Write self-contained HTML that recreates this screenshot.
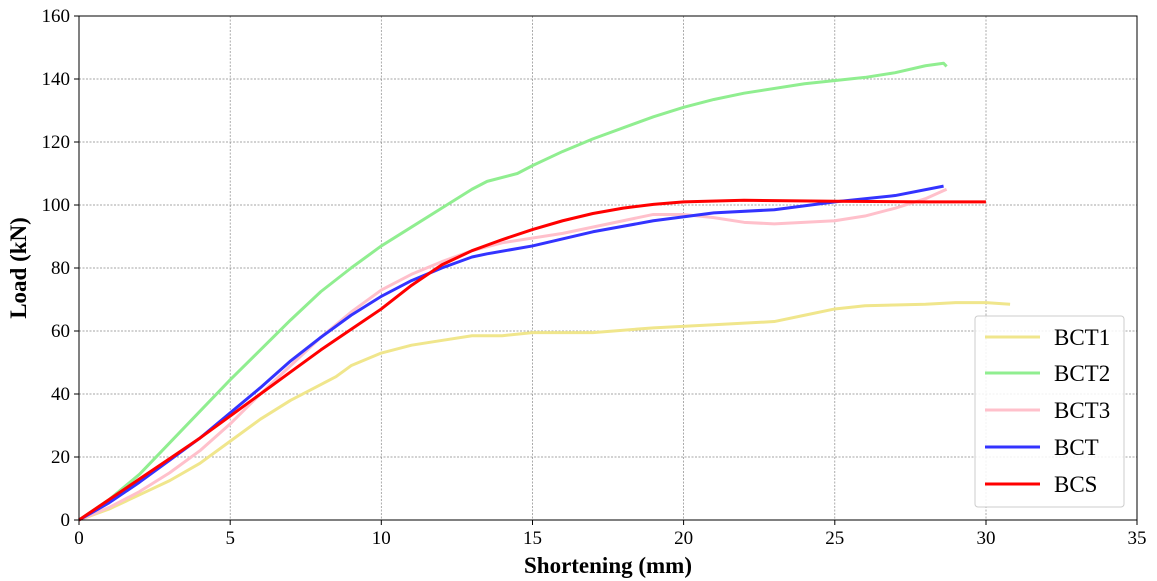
<!DOCTYPE html>
<html><head><style>body{margin:0;background:#fff}svg{display:block}text{font-family:"Liberation Serif",serif}</style></head>
<body>
<svg width="1157" height="581" xmlns="http://www.w3.org/2000/svg">
<rect width="1157" height="581" fill="#fff"/>
<g stroke="#888" stroke-width="0.7" stroke-dasharray="2,1.5">
<line x1="230.2" y1="16" x2="230.2" y2="520"/><line x1="381.3" y1="16" x2="381.3" y2="520"/><line x1="532.5" y1="16" x2="532.5" y2="520"/><line x1="683.6" y1="16" x2="683.6" y2="520"/><line x1="834.8" y1="16" x2="834.8" y2="520"/><line x1="986" y1="16" x2="986" y2="520"/>
<line x1="79" y1="457" x2="1137" y2="457"/><line x1="79" y1="394" x2="1137" y2="394"/><line x1="79" y1="331" x2="1137" y2="331"/><line x1="79" y1="268" x2="1137" y2="268"/><line x1="79" y1="205" x2="1137" y2="205"/><line x1="79" y1="142" x2="1137" y2="142"/><line x1="79" y1="79" x2="1137" y2="79"/>
</g>
<g transform="translate(79,520) scale(30.23,-3.15)" fill="none" stroke-width="3" stroke-linejoin="round">
<polyline vector-effect="non-scaling-stroke" stroke="#f0e68c" points="0,0 1,3.5 2,8 3,12.5 4,18 5,25 6,32 7,38 8,43 8.5,45.5 9,49 10,53 11,55.5 12,57 13,58.5 14,58.5 15,59.5 17,59.5 19,61 21,62 23,63 24,65 25,67 26,68 28,68.5 29,69 30,69 30.8,68.5"/>
<polyline vector-effect="non-scaling-stroke" stroke="#90ee90" points="0,0 1,6.5 2,14.5 3,24.5 4,34.5 5,44.5 6,54 7,63.5 8,72.5 9,80 10,87 11,93 12,99 13,105 13.5,107.5 14.5,110 15,112.5 16,117 17,121 18,124.5 19,128 20,131 21,133.5 22,135.5 24,138.5 26,140.5 27,142 28,144.2 28.6,145 28.7,144"/>
<polyline vector-effect="non-scaling-stroke" stroke="#ffc0cb" points="0,0 1,4 2,9 3,15 4,22 5,30.5 6,40 7,49 8,58 9,66 10,73 11,78 12,82 13,85.5 14,88 16,91 18,95 19,97 20,97 21,96 22,94.5 23,94 25,95 26,96.5 27,99 28,102 28.7,105"/>
<polyline vector-effect="non-scaling-stroke" stroke="#3333ff" points="0,0 1,5.5 2,12 3,19 4,26 5,34 6,42 7,50.5 8,58 9,65 10,71 11,76 12,80 13,83.5 13.5,84.5 15,87 17,91.5 19,95 21,97.5 23,98.5 25,101 27,103 28.6,106"/>
<polyline vector-effect="non-scaling-stroke" stroke="#ff0000" points="0,0 1,6.5 2,13 3,19.5 4,26 5,33 6,40 7,47 8,54 9,60.5 10,67 11,74.5 12,81 13,85.5 14,89 15,92.2 16,95 17,97.3 18,99 19,100.2 20,101 22,101.5 25,101.2 28,101 30,101"/>
</g>
<rect x="79" y="16" width="1058" height="504" fill="none" stroke="#000" stroke-width="1"/>
<g stroke="#000" stroke-width="1">
<line x1="79" y1="520" x2="79" y2="525"/><line x1="230.2" y1="520" x2="230.2" y2="525"/><line x1="381.3" y1="520" x2="381.3" y2="525"/><line x1="532.5" y1="520" x2="532.5" y2="525"/><line x1="683.6" y1="520" x2="683.6" y2="525"/><line x1="834.8" y1="520" x2="834.8" y2="525"/><line x1="986" y1="520" x2="986" y2="525"/><line x1="1137" y1="520" x2="1137" y2="525"/>
<line x1="74" y1="520" x2="79" y2="520"/><line x1="74" y1="457" x2="79" y2="457"/><line x1="74" y1="394" x2="79" y2="394"/><line x1="74" y1="331" x2="79" y2="331"/><line x1="74" y1="268" x2="79" y2="268"/><line x1="74" y1="205" x2="79" y2="205"/><line x1="74" y1="142" x2="79" y2="142"/><line x1="74" y1="79" x2="79" y2="79"/><line x1="74" y1="16" x2="79" y2="16"/>
</g>
<g font-size="19" text-anchor="middle">
<text x="79" y="544">0</text><text x="230.2" y="544">5</text><text x="381.3" y="544">10</text><text x="532.5" y="544">15</text><text x="683.6" y="544">20</text><text x="834.8" y="544">25</text><text x="986" y="544">30</text><text x="1137" y="544">35</text>
</g>
<g font-size="19" text-anchor="end">
<text x="70" y="526">0</text><text x="70" y="463">20</text><text x="70" y="400">40</text><text x="70" y="337">60</text><text x="70" y="274">80</text><text x="70" y="211">100</text><text x="70" y="148">120</text><text x="70" y="85">140</text><text x="70" y="22">160</text>
</g>
<text x="608" y="573" font-size="23" font-weight="bold" text-anchor="middle">Shortening (mm)</text>
<text transform="translate(26,268) rotate(-90)" font-size="23" font-weight="bold" text-anchor="middle">Load (kN)</text>
<rect x="975" y="316" width="149" height="191" rx="3" fill="#fff" fill-opacity="0.85" stroke="#ccc"/>
<g stroke-width="3">
<line x1="985" y1="337" x2="1040" y2="337" stroke="#f0e68c"/>
<line x1="985" y1="373" x2="1040" y2="373" stroke="#90ee90"/>
<line x1="985" y1="410" x2="1040" y2="410" stroke="#ffc0cb"/>
<line x1="985" y1="447" x2="1040" y2="447" stroke="#3333ff"/>
<line x1="985" y1="484" x2="1040" y2="484" stroke="#ff0000"/>
</g>
<g font-size="23">
<text x="1054" y="345">BCT1</text><text x="1054" y="381">BCT2</text><text x="1054" y="418">BCT3</text><text x="1054" y="455">BCT</text><text x="1054" y="492">BCS</text>
</g>
</svg>
</body></html>
